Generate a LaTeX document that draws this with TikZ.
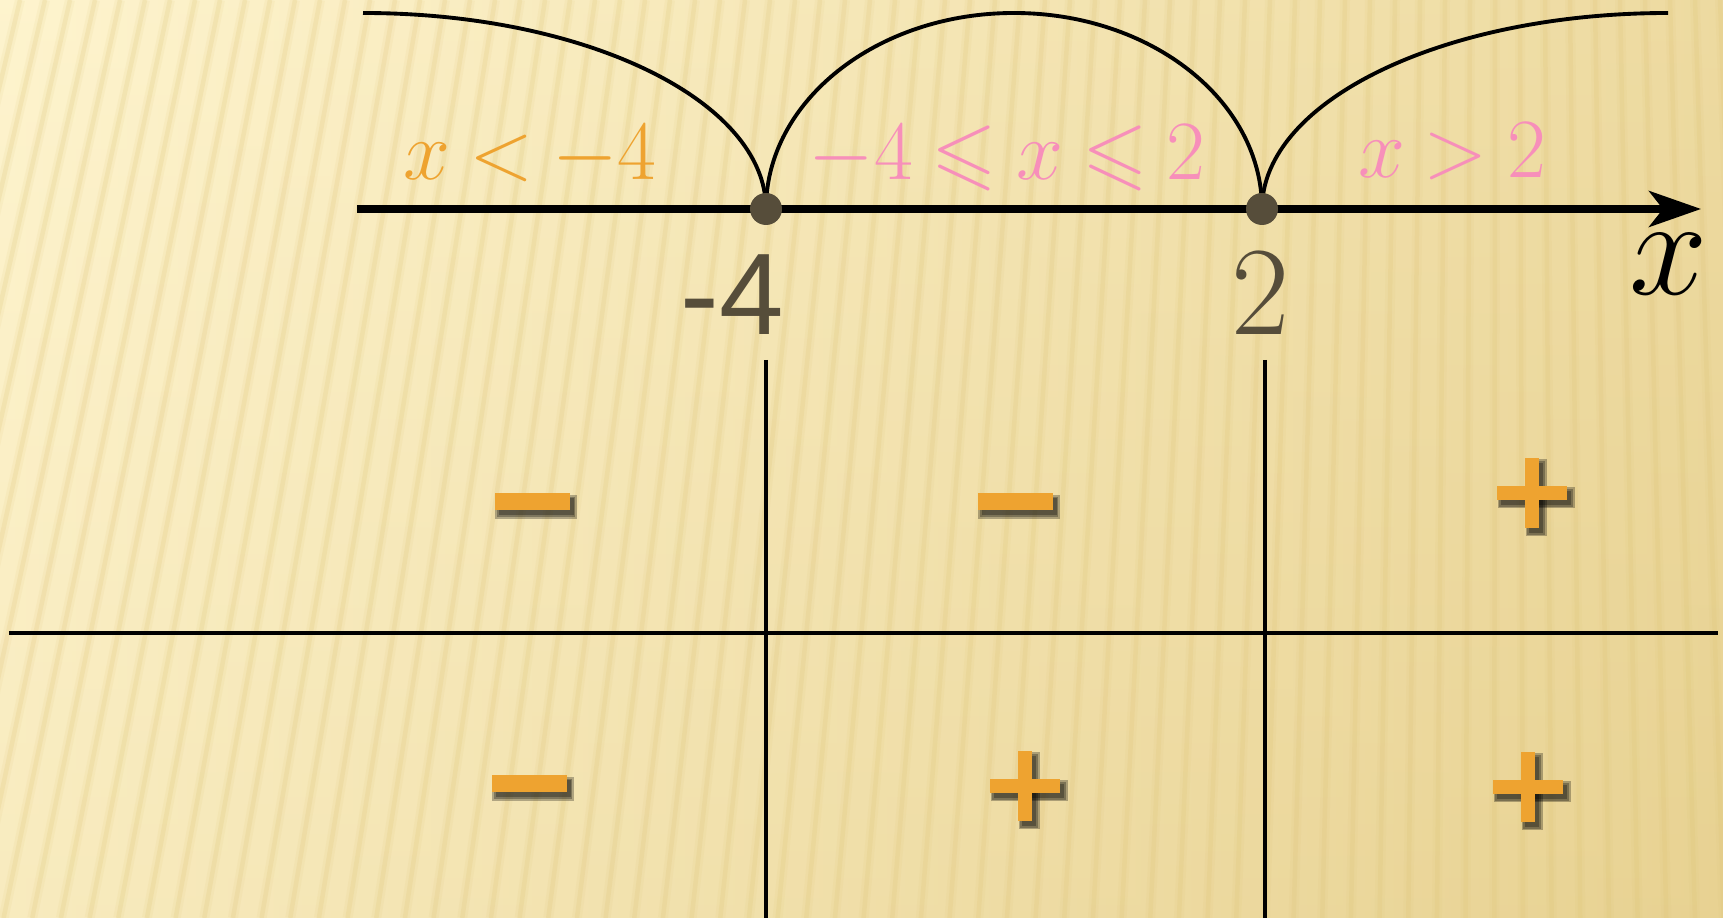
\RequirePackage{fix-cm}
\documentclass[tikz,border=0pt]{standalone}
\usepackage{amssymb}
\usepackage{fontspec}
\usetikzlibrary{arrows.meta}
\newfontfamily\ticksans{Liberation Sans}
\newcommand\regionfont{\fontsize{24}{29}\selectfont\thickmuskip=4mu\relax}
\definecolor{bgcream}{RGB}{254,244,206}
\definecolor{bgmid}{RGB}{252,239,196}
\definecolor{bgtan}{RGB}{232,210,146}
\definecolor{stripecol}{RGB}{222,196,118}
\definecolor{signcol}{RGB}{238,163,48}
\definecolor{pinkcol}{RGB}{247,143,186}
\definecolor{dotcol}{RGB}{86,77,58}
\tikzset{
  minussign/.pic={
    \foreach \g in {0.035,0.018,0}
      \fill[black, fill opacity=0.28] (-0.335-\g,-0.135-\g) rectangle (0.415+\g,0.035+\g);
    \fill[signcol] (-0.375,-0.085) rectangle (0.375,0.085);
  },
  plussign/.pic={
    \foreach \g in {0.035,0.018,0} {
      \fill[black, fill opacity=0.28] (-0.31-\g,-0.12-\g) rectangle (0.39+\g,0.02+\g);
      \fill[black, fill opacity=0.28] (-0.03-\g,-0.40-\g) rectangle (0.11+\g,0.30+\g);
    }
    \fill[signcol] (-0.35,-0.07) rectangle (0.35,0.07);
    \fill[signcol] (-0.07,-0.35) rectangle (0.07,0.35);
  },
  dot/.style={circle, fill=dotcol, inner sep=0pt, minimum size=3.2mm},
  region/.style={anchor=base, font=\regionfont},
  ticklbl/.style={dotcol, anchor=base},
  gridline/.style={line width=0.9pt, black},
}

\begin{document}
\begin{tikzpicture}[
    >=Stealth,
    line width=1.1pt
  ]
  \useasboundingbox (0,0) rectangle (17.23,9.18);

  % --- background, cream paper with faint stripes -------------------------
  \shade[left color=bgcream, middle color=bgmid, right color=bgtan] (0,0) rectangle (17.23,9.18);
  \shade[top color=bgcream, bottom color=bgtan, opacity=0.25] (0,0) rectangle (17.23,9.18);
  \begin{scope}
    \clip (0,0) rectangle (17.23,9.18);
    \foreach \i in {0,...,82} {
      \pgfmathsetmacro{\xs}{\i*0.25-0.3}
      \pgfmathsetmacro{\xb}{\xs-2.2*(1-\xs/15)}
      \draw[stripecol, opacity=0.10, line width=1.0mm] (\xs,9.18) -- (\xb,0);
      \draw[stripecol, opacity=0.20, line width=0.45mm] (\xs,9.18) -- (\xb,0);
    }
  \end{scope}

  % --- coordinates -------------------------------------------------------
  \coordinate (A) at (7.66,7.09);
  \coordinate (B) at (12.62,7.09);
  \coordinate (axL) at (3.57,7.09);
  \coordinate (axR) at (17.01,7.09);
  \coordinate (vAtop) at (7.66,5.58);
  \coordinate (vAbot) at (7.66,0);
  \coordinate (vBtop) at (12.65,5.58);
  \coordinate (vBbot) at (12.65,0);
  \coordinate (hL) at (0.09,2.85);
  \coordinate (hR) at (17.18,2.85);

  % --- arcs over the three intervals --------------------------------------
  \draw (A) arc[start angle=0, end angle=90, x radius=4.03, y radius=1.96];
  \draw (A) arc[start angle=180, end angle=0, x radius=2.48, y radius=1.96];
  \draw (B) arc[start angle=180, end angle=90, x radius=4.06, y radius=1.96];

  % --- number line -------------------------------------------------------
  \draw[line width=2pt, -{Stealth[length=5.2mm, width=3.6mm, inset=1.4mm]}] (axL) -- (axR);
  \node[dot] (dotA) at (A) {};
  \node[dot] (dotB) at (B) {};
  \node[font=\fontsize{40}{46}\selectfont] (xlbl) at (16.69,6.54) {$x$};

  \node[ticklbl, font=\ticksans\fontsize{33}{38}\selectfont] (tickA) at (7.32,5.83) {-4};
  \node[ticklbl, font=\fontsize{36}{42}\selectfont] (tickB) at (12.61,5.83) {2};

  \node[region, signcol] (lblLeft) at (5.30,7.38) {$x<-4$};
  \node[region, pinkcol] (lblMid) at (10.07,7.38) {$-4\leqslant x\leqslant 2$};
  \node[region, pinkcol] (lblRight) at (14.52,7.40) {$x>2$};

  % --- sign table ----------------------------------------------------------
  \draw[gridline] (vAtop) -- (vAbot);
  \draw[gridline] (vBtop) -- (vBbot);
  \draw[gridline] (hL) -- (hR);

  \pic (s11) at (5.32,4.16) {minussign};
  \pic (s12) at (10.15,4.16) {minussign};
  \pic (s13) at (15.32,4.25) {plussign};
  \pic (s21) at (5.29,1.34) {minussign};
  \pic (s22) at (10.25,1.32) {plussign};
  \pic (s23) at (15.28,1.31) {plussign};

\end{tikzpicture}
\end{document}
